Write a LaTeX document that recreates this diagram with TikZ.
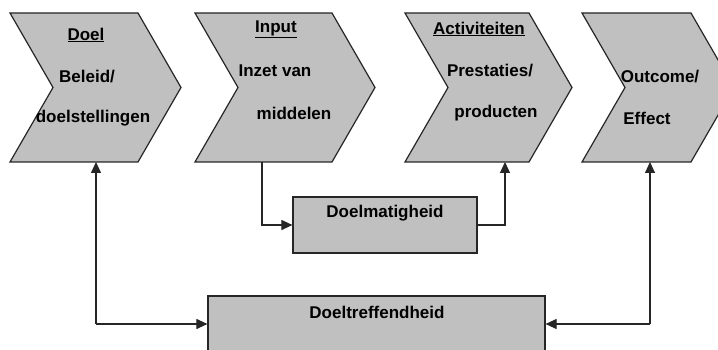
\documentclass[tikz,border=0pt]{standalone}
\usepackage{fontspec}
\setmainfont{Liberation Sans}
\usetikzlibrary{shapes.symbols,arrows.meta}

\definecolor{boxgray}{HTML}{C0C0C0}
\definecolor{linegray}{HTML}{262626}

\tikzset{
	chevron/.style={signal, signal from=west, signal to=east,
		signal pointer angle=120, draw=linegray, fill=boxgray,
		line width=1.2pt, inner sep=0pt, minimum height=149pt},
	box/.style={rectangle, draw=linegray, fill=boxgray, line width=1.2pt,
		inner sep=0pt, minimum height=56pt},
	txt/.style={font=\fontsize{17}{20}\selectfont\bfseries, inner sep=0pt},
	link/.style={draw=linegray, line width=1.1pt},
	tip/.style={-{Triangle[length=11pt,width=10pt]}}
}

\begin{document}
\begin{tikzpicture}[x=1pt, y=-1pt]

\useasboundingbox (0, 0) rectangle (718, 350);
\clip (0, 0) rectangle (718, 350);

\node [chevron, minimum width=171pt] (doel)    at (95.5, 87.5) {};
\node [chevron, minimum width=180pt] (input)   at (285, 87.5) {};
\node [chevron, minimum width=167pt] (activ)   at (488.5, 87.5) {};
\node [chevron, minimum width=152pt] (outcome) at (658, 87.5) {};

\node [txt] (doel-kop)   at (86, 35)  {\underline{Doel}};
\node [txt] (doel-r1)    at (87, 77)  {Beleid/};
\node [txt] (doel-r2)    at (93, 118) {doelstellingen};

\node [txt] (input-kop)  at (276, 29)  {\underline{Input}};
\node [txt] (input-r1)   at (275, 71)  {Inzet van};
\node [txt] (input-r2)   at (294, 113) {middelen};

\node [txt] (activ-kop)  at (479, 29)  {\underline{Activiteiten}};
\node [txt] (activ-r1)   at (490, 71)  {Prestaties/};
\node [txt] (activ-r2)   at (496, 113) {producten};

\node [txt] (outcome-r1) at (660, 77)  {Outcome/};
\node [txt] (outcome-r2) at (647, 118) {Effect};

\node [box, minimum width=184pt] (doelm)  at (385, 225) {};
\node [txt] (doelm-tekst) at (385, 213) {Doelmatigheid};

\node [box, minimum width=337pt] (doeltr) at (376.5, 324) {};
\node [txt] (doeltr-tekst) at (377, 312) {Doeltreffendheid};

\coordinate (input-voet)   at (262, 162);
\coordinate (activ-voet)   at (505, 162);
\coordinate (doel-voet)    at (96, 162);
\coordinate (outcome-voet) at (650, 162);

\draw [link, tip] (input-voet) |- (doelm.west);
\draw [link, tip] (doelm.east) -| (activ-voet);
\draw [link, tip] (doeltr.west -| doel-voet) -- (doel-voet);
\draw [link, tip] (doeltr.west -| doel-voet) -- (doeltr.west);
\draw [link, tip] (doeltr.east -| outcome-voet) -- (outcome-voet);
\draw [link, tip] (doeltr.east -| outcome-voet) -- (doeltr.east);

\end{tikzpicture}
\end{document}
